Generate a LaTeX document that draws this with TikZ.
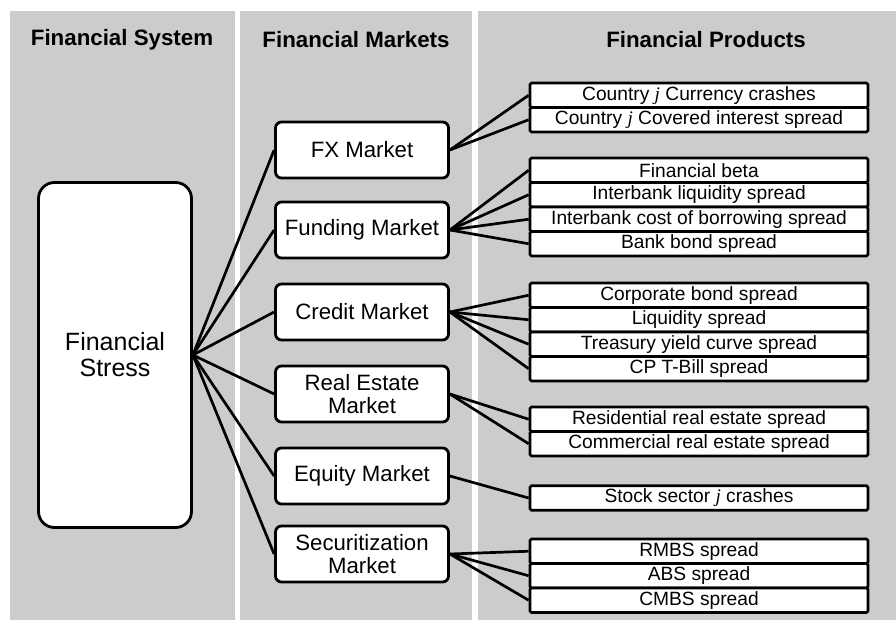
\documentclass[tikz,border=0pt]{standalone}
\usepackage{fontspec}
\setmainfont{Liberation Sans}
\newfontfamily\jfont{Liberation Serif}
\usetikzlibrary{math}
\definecolor{panelgray}{RGB}{204,204,204}
\newcommand{\jj}{{\jfont\itshape j}}

\begin{document}
\begin{tikzpicture}[x=1pt,y=-1pt,
    header/.style={font=\bfseries\fontsize{22.3}{24}\selectfont},
    market/.style={draw,line width=2.8pt,fill=white,rounded corners=6pt,minimum width=173pt,minimum height=56pt,align=center,inner sep=0pt,font=\fontsize{22.2}{23}\selectfont},
    product/.style={draw,line width=2.7pt,fill=white,rounded corners=1.5pt,minimum width=338pt,minimum height=24.5pt,inner sep=0pt,font=\fontsize{19.2}{20}\selectfont},
    link/.style={line width=2.7pt}]
  \tikzmath{\ma = 362; \pa = 699;}
  \useasboundingbox (0,0) rectangle (896,620);
  % panels
  \fill[panelgray] (10,11) rectangle (235,620);
  \fill[panelgray] (240,11) rectangle (472,620);
  \fill[panelgray] (478,11) rectangle (896,620);
  \node[header] (hsys) at (122,40) {Financial System};
  \node[header] (hmkt) at (356,40) {Financial Markets};
  \node[header] (hprod) at (706,40) {Financial Products};
  % system
  \node[draw,line width=2.8pt,fill=white,rounded corners=16pt,minimum width=153pt,minimum height=345pt,align=center,font=\fontsize{25}{26}\selectfont] (stress) at (115,355) {Financial\\Stress};
  % markets
  \node[market] (fx) at (\ma,150) {FX Market};
  \node[market] (fund) at (\ma,230) {Funding Market};
  \node[market] (credit) at (\ma,312) {Credit Market};
  \node[market] (real) at (\ma,394) {Real Estate\\Market};
  \node[market] (equity) at (\ma,476) {Equity Market};
  \node[market] (secur) at (\ma,554) {Securitization\\Market};
  % products
  \foreach \nm/\yy/\txt in {cur/95.25/Country \jj{} Currency crashes,
      cov/119.75/Country \jj{} Covered interest spread,
      beta/170.25/Financial beta,
      liq/194.75/Interbank liquidity spread,
      borrow/219.25/Interbank cost of borrowing spread,
      bbond/243.75/Bank bond spread,
      cbond/295.25/Corporate bond spread,
      lspread/319.75/Liquidity spread,
      yield/344.25/Treasury yield curve spread,
      tbill/368.75/CP T-Bill spread,
      resid/419.25/Residential real estate spread,
      comm/443.75/Commercial real estate spread,
      stock/498/Stock sector \jj{} crashes,
      rmbs/551.25/RMBS spread,
      abs/575.75/ABS spread,
      cmbs/600.25/CMBS spread}
    \node[product] (\nm) at (\pa,\yy) {\txt};
  % connectors
  \foreach \m in {fx,fund,credit,real,equity,secur}
    \draw[link] (stress.east) -- (\m.west);
  \foreach \a/\b in {fx/cur,fx/cov,fund/beta,fund/liq,fund/borrow,fund/bbond,
      credit/cbond,credit/lspread,credit/yield,credit/tbill,real/resid,real/comm,
      equity/stock,secur/rmbs,secur/abs,secur/cmbs}
    \draw[link] (\a.east) -- (\b.west);
\end{tikzpicture}
\end{document}
